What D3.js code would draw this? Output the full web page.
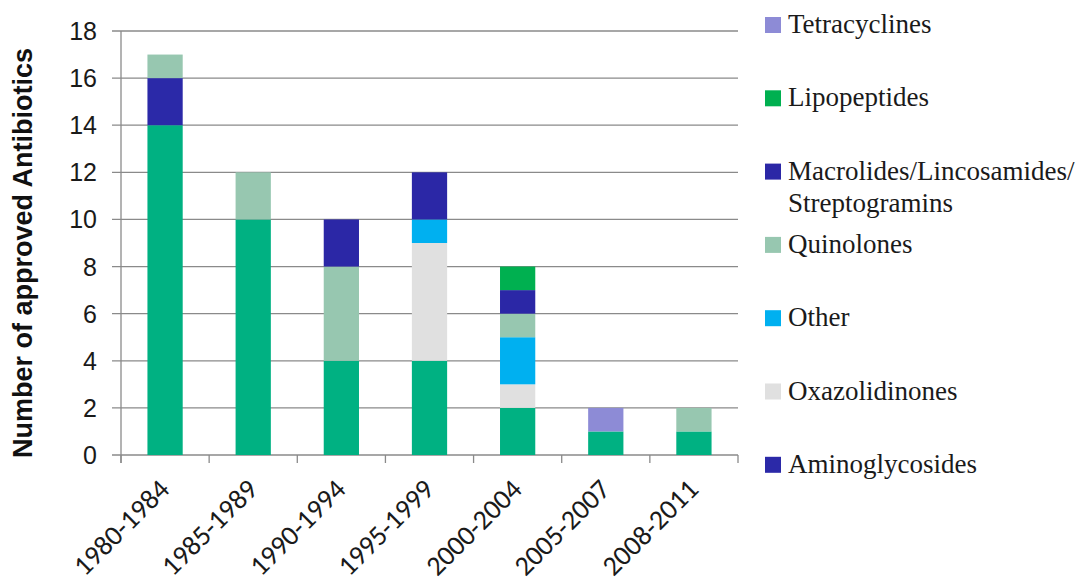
<!DOCTYPE html>
<html><head><meta charset="utf-8">
<script src="https://cdn.jsdelivr.net/npm/d3@7"></script>
<style>html,body{margin:0;padding:0;background:#fff;}</style>
</head><body>
<svg id="chart" width="1079" height="584"></svg>
<script>
const categories = ["1980-1984","1985-1989","1990-1994","1995-1999","2000-2004","2005-2007","2008-2011"];
// stack order bottom -> top
const seriesNames = ["β-Lactams","Aminoglycosides","Oxazolidinones","Other","Quinolones","Macrolides/Lincosamides/Streptogramins","Lipopeptides","Tetracyclines"];
const betaLactams      = [14,10,4,4,2,1,1];
const aminoglycosides  = [2,0,0,0,0,0,0];
const oxazolidinones   = [0,0,0,5,1,0,0];
const other            = [0,0,0,1,2,0,0];
const quinolones       = [1,2,4,0,1,0,1];
const macrolides       = [0,0,2,2,1,0,0];
const lipopeptides     = [0,0,0,0,1,0,0];
const tetracyclines    = [0,0,0,0,0,1,0];
const seriesValues = [betaLactams,aminoglycosides,oxazolidinones,other,quinolones,macrolides,lipopeptides,tetracyclines];
const seriesColors = ["#00b182","#2b29a8","#e0e0e0","#00b0f0","#97c7b0","#2b27a6","#00b050","#8d8bd6"];
const legendItems = ["Tetracyclines","Lipopeptides","Macrolides/Lincosamides/|Streptogramins","Quinolones","Other","Oxazolidinones","Aminoglycosides"];
const yTicks = [0,2,4,6,8,10,12,14,16,18];
const yTitle = "Number of approved Antibiotics";

(function(){
const svg = d3.select("#chart");
const mLeft = 121, mRight = 738, mTop = 31, mBottom = 455;

const rows = categories.map((c,i)=>{
  const r = {cat:c};
  seriesNames.forEach((s,j)=> r[s] = seriesValues[j][i]);
  return r;
});
const stacked = d3.stack().keys(seriesNames)(rows);

const x = d3.scaleBand().domain(categories).range([mLeft,mRight]).paddingInner(0.6).paddingOuter(0.3);
const y = d3.scaleLinear().domain([0,18]).range([mBottom,mTop]);
const color = d3.scaleOrdinal().domain(seriesNames).range(seriesColors);

// gridlines
svg.append("g").selectAll("line").data(yTicks).join("line")
  .attr("x1", mLeft-9).attr("x2", mRight)
  .attr("y1", d=>y(d)).attr("y2", d=>y(d))
  .attr("stroke","#8a8a8a").attr("stroke-width",1.3);

// y tick labels
svg.append("g").selectAll("text").data(yTicks).join("text")
  .attr("x", 97).attr("y", d=>y(d)+9)
  .attr("text-anchor","end")
  .style("font-family","'Liberation Sans', Arial, sans-serif")
  .style("font-size","25px").attr("fill","#1a1a1a")
  .text(d=>d);

// bars
svg.append("g").selectAll("g").data(stacked).join("g")
  .attr("fill", d=>color(d.key))
  .selectAll("rect").data(d=>d).join("rect")
  .attr("x", d=>x(d.data.cat))
  .attr("width", x.bandwidth())
  .attr("y", d=>y(d[1]))
  .attr("height", d=>y(d[0])-y(d[1]));

// axes lines
svg.append("line").attr("x1",mLeft).attr("x2",mLeft).attr("y1",mTop).attr("y2",mBottom+8)
  .attr("stroke","#8a8a8a").attr("stroke-width",1.3);
const step = x.step();
const bounds = d3.range(categories.length+1).map(i=> x(categories[0]) - step*x.paddingInner()/2 + i*step);
svg.append("g").selectAll("line").data(bounds).join("line")
  .attr("x1",d=>d).attr("x2",d=>d).attr("y1",mBottom).attr("y2",mBottom+8)
  .attr("stroke","#8a8a8a").attr("stroke-width",1.3);

// x labels
svg.append("g").selectAll("text").data(categories).join("text")
  .attr("transform", d=>`translate(${x(d)+x.bandwidth()/2+6},${mBottom+36}) rotate(-45)`)
  .attr("text-anchor","end")
  .style("font-family","Carlito, Lato, 'Open Sans', sans-serif")
  .style("font-size","28px").attr("fill","#1a1a1a")
  .text(d=>d);

// y title
svg.append("text")
  .attr("transform", `translate(32,253) rotate(-90)`)
  .attr("text-anchor","middle")
  .style("font-family","'Liberation Sans', Arial, sans-serif")
  .style("font-size","27px").style("font-weight","bold").attr("fill","#111")
  .text(yTitle);

// legend
const legendColor = {"Tetracyclines":"#8d8bd6","Lipopeptides":"#00b050","Macrolides/Lincosamides/|Streptogramins":"#2b27a6","Quinolones":"#97c7b0","Other":"#00b0f0","Oxazolidinones":"#e0e0e0","Aminoglycosides":"#2b29a8"};
const lg = svg.append("g").selectAll("g").data(legendItems).join("g")
  .attr("transform",(d,i)=>`translate(765,${25 + i*73.3})`);
lg.append("rect").attr("x",0).attr("y",-8).attr("width",16).attr("height",16)
  .attr("fill", d=>legendColor[d]);
lg.append("text").attr("x",23).attr("y",8)
  .style("font-family","'Liberation Serif', 'Times New Roman', serif")
  .style("font-size","27px").attr("fill","#1a1a1a")
  .each(function(d){
    const parts = d.split("|");
    d3.select(this).selectAll("tspan").data(parts).join("tspan")
      .attr("x",23)
      .attr("dy",(p,i)=> i===0?0:32)
      .text(p=>p);
  });
})();
</script>
</body></html>
